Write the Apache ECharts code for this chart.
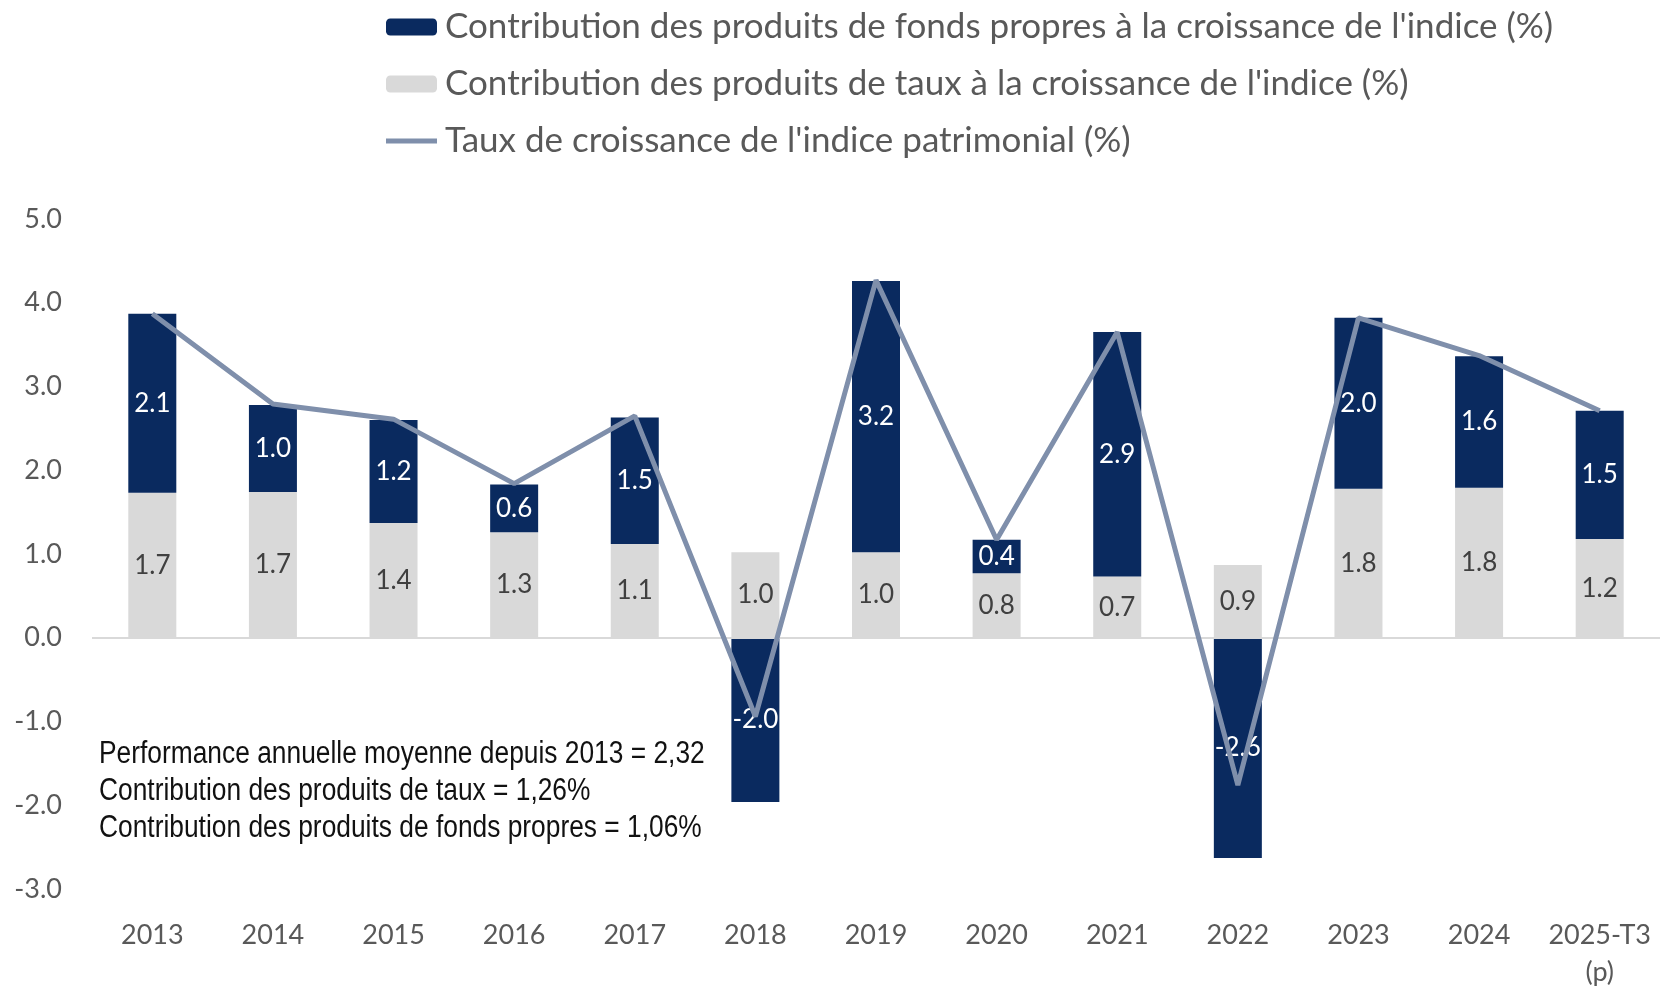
<!DOCTYPE html>
<html lang="fr">
<head>
  <meta charset="UTF-8" />
  <title>Indice patrimonial</title>
  <script src="https://cdn.jsdelivr.net/npm/echarts@6/dist/echarts.min.js"></script>
  <style>
    body { margin: 0; padding: 0; background: #fff; }
    #chart { width: 1660px; height: 991px; }
  </style>
</head>
<body>
  <div id="chart"></div>

  <script>
    // valeurs
    const annees = ["2013", "2014", "2015", "2016", "2017", "2018", "2019", "2020", "2021", "2022", "2023", "2024", "2025-T3\n(p)"];
    const contribTaux = [1.73, 1.74, 1.37, 1.26, 1.12, 1.02, 1.02, 0.77, 0.73, 0.87, 1.78, 1.79, 1.18];
    const contribFonds = [2.14, 1.04, 1.23, 0.57, 1.51, -1.96, 3.24, 0.40, 2.92, -2.63, 2.04, 1.57, 1.53];
    const croissance = [3.87, 2.79, 2.61, 1.84, 2.65, -0.94, 4.27, 1.17, 3.65, -1.76, 3.82, 3.37, 2.71];

    const noms = [
      "Contribution des produits de fonds propres à la croissance de l'indice (%)",
      "Contribution des produits de taux à la croissance de l'indice (%)",
      "Taux de croissance de l'indice patrimonial (%)"
    ];
    const notes = [
      "Performance annuelle moyenne depuis 2013 = 2,32",
      "Contribution des produits de taux = 1,26%",
      "Contribution des produits de fonds propres = 1,06%"
    ];

    const police = "Lato, 'Open Sans', sans-serif";
    const chart = echarts.init(document.getElementById("chart"));

    chart.setOption({
      animation: false,
      textStyle: { fontFamily: police },
      legend: {
        orient: "vertical",
        left: 386,
        top: 7,
        padding: 0,
        itemWidth: 51,
        itemHeight: 17,
        itemGap: 17,
        textStyle: { fontSize: 35, color: "#595959", fontFamily: police, lineHeight: 40, padding: [0, 0, 0, 3] },
        data: [
          noms[0],
          noms[1],
          { name: noms[2], icon: "path://M0,0H51V5H0Z" }
        ]
      },
      grid: { left: 92, right: -5, top: 219, bottom: 98 },
      xAxis: {
        type: "category",
        data: annees,
        axisLine: { show: false },
        axisTick: { show: false },
        axisLabel: { color: "#595959", fontSize: 27, margin: 28, lineHeight: 37, interval: 0 }
      },
      yAxis: {
        type: "value",
        min: -3,
        max: 5,
        interval: 1,
        splitLine: { show: false },
        axisLabel: { color: "#595959", fontSize: 27, margin: 30, formatter: v => v.toFixed(1) }
      },
      series: [
        {
          name: noms[1],
          type: "bar",
          stack: "total",
          barWidth: 48,
          data: contribTaux,
          itemStyle: { color: "#d9d9d9" },
          label: {
            show: true,
            position: "inside",
            color: "#404040",
            fontSize: 26,
            formatter: p => p.value.toFixed(1)
          },
          markLine: {
            silent: true,
            symbol: "none",
            label: { show: false },
            lineStyle: { color: "#d9d9d9", width: 2, type: "solid" },
            data: [{ yAxis: 0 }]
          }
        },
        {
          name: noms[0],
          type: "bar",
          stack: "total",
          barWidth: 48,
          data: contribFonds,
          itemStyle: { color: "#0a2a5f" },
          label: {
            show: true,
            position: "inside",
            color: "#ffffff",
            fontSize: 26,
            formatter: p => p.value.toFixed(1)
          }
        },
        {
          name: noms[2],
          type: "line",
          data: croissance,
          symbol: "none",
          z: 5,
          lineStyle: { color: "#7f8fab", width: 5 },
          itemStyle: { color: "#7f8fab" }
        }
      ],
      graphic: [{
        type: "text",
        left: 99,
        top: 736,
        z: 100,
        scaleX: 0.85,
        style: {
          text: notes.join("\n"),
          font: "31px 'Liberation Sans', Arial, sans-serif",
          lineHeight: 37,
          fill: "#111111"
        }
      }]
    });
  </script>
</body>
</html>
